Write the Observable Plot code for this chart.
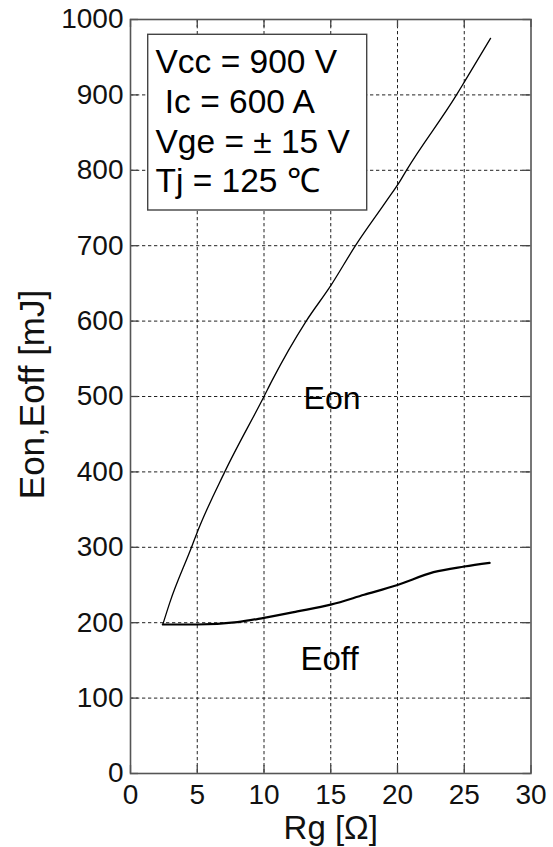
<!DOCTYPE html>
<html>
<head>
<meta charset="utf-8">
<script src="https://cdn.jsdelivr.net/npm/d3@7"></script>
<script src="https://cdn.jsdelivr.net/npm/@observablehq/plot@0.6"></script>
<style>
  html, body { margin: 0; padding: 0; background: #fff; }
  #chart svg { display: block; }
</style>
</head>
<body>
<div id="chart"></div>
<script>
// ---- data ----
const eonRg   = [2.42, 2.95, 4.57, 5, 7.06, 10, 10.6, 13.16, 15, 16.85, 19.2, 20.2, 20.67, 24.42, 25, 26.97];
const eonE    = [197.6, 227, 300, 320, 400, 500, 521, 600, 647, 700, 760, 786, 800, 900, 917, 975];
const eoffRg  = [2.42, 5, 8, 10, 12.5, 15, 17.5, 20, 22.7, 25, 26.9];
const eoffE   = [197.6, 197.6, 200.7, 206.5, 215, 224, 237, 250, 267, 274.5, 279.4];
const xTicks  = [0, 5, 10, 15, 20, 25, 30];
const yTicks  = [0, 100, 200, 300, 400, 500, 600, 700, 800, 900, 1000];
const xGrid   = [5, 10, 15, 20, 25];
const yGrid   = [100, 200, 300, 400, 500, 600, 700, 800, 900];
const legendLines = ["Vcc = 900 V", "\u00a0Ic = 600 A", "Vge = \u00b1 15 V", "Tj = 125 \u2103"];
const curveLabels = ["Eon", "Eoff"];
const xLabel = "Rg [\u03a9]";
const yLabel = "Eon,Eoff [mJ]";

const eon  = eonRg.map((x, i) => ({x, y: eonE[i]}));
const eoff = eoffRg.map((x, i) => ({x, y: eoffE[i]}));

const W = 553, H = 847;
const mL = 130, mR = 22.5, mT = 19, mB = 74;
const fw = W - mL - mR, fh = H - mT - mB;
const tickLen = 8;
const font = "'Liberation Sans', Arial, sans-serif";

const chart = Plot.plot({
  width: W,
  height: H,
  marginLeft: mL,
  marginRight: mR,
  marginTop: mT,
  marginBottom: mB,
  style: {fontFamily: font, fontSize: "28px", color: "#111", background: "#fff"},
  x: {domain: [0, 30]},
  y: {domain: [0, 1000]},
  marks: [
    // grid
    Plot.ruleX(xGrid, {x: d => d, stroke: "#222", strokeWidth: 1, strokeDasharray: "3.3,2.7"}),
    Plot.ruleY(yGrid, {y: d => d, stroke: "#222", strokeWidth: 1, strokeDasharray: "3.3,2.7"}),
    // inward ticks on all sides
    Plot.tickX(xTicks, {x: d => d, insetTop: fh - tickLen, stroke: "#444", strokeWidth: 1.3}),
    Plot.tickX(xTicks, {x: d => d, insetBottom: fh - tickLen, stroke: "#444", strokeWidth: 1.3}),
    Plot.tickY(yTicks, {y: d => d, insetRight: fw - tickLen, stroke: "#444", strokeWidth: 1.3}),
    Plot.tickY(yTicks, {y: d => d, insetLeft: fw - tickLen, stroke: "#444", strokeWidth: 1.3}),
    // axes
    Plot.axisX({ticks: xTicks, tickFormat: d => String(d), tickSize: 0, tickPadding: 11, label: null, fontSize: 28, fill: "#111"}),
    Plot.axisY({ticks: yTicks, tickFormat: d => String(d), tickSize: 0, tickPadding: 7, label: null, fontSize: 28, fill: "#111"}),
    // curves
    Plot.line(eon, {x: "x", y: "y", stroke: "#000", strokeWidth: 1.3, curve: "monotone-x"}),
    Plot.line(eoff, {x: "x", y: "y", stroke: "#000", strokeWidth: 2.2, curve: "monotone-x"}),
    // curve labels
    Plot.text([curveLabels[0]], {frameAnchor: "top-left", text: d => d, dx: 331.5 - mL, dy: 408.3 - mT, textAnchor: "middle", lineAnchor: "bottom", fontSize: 32, fill: "#000"}),
    Plot.text([curveLabels[1]], {frameAnchor: "top-left", text: d => d, dx: 329 - mL, dy: 669.3 - mT, textAnchor: "middle", lineAnchor: "bottom", fontSize: 33, fill: "#000"}),
    // legend box
    Plot.rect([0], {insetLeft: 147.7 - mL, insetTop: 34.3 - mT, insetRight: (W - mR) - 366.7, insetBottom: (H - mB) - 210, fill: "#fff", stroke: "#444", strokeWidth: 1.4}),
    ...legendLines.map((t, i) => Plot.text([t], {
      frameAnchor: "top-left", text: d => d, dx: 155 - mL, dy: 72.7 - mT + i * 39.7,
      textAnchor: "start", lineAnchor: "bottom", fontSize: 33.5, fill: "#000"
    })),
    // frame
    Plot.frame({stroke: "#555", strokeWidth: 1.6}),
    // axis labels
    Plot.text([xLabel], {frameAnchor: "bottom", text: d => d, dy: 838.3 - (H - mB), textAnchor: "middle", lineAnchor: "bottom", fontSize: 33, fill: "#111"}),
    Plot.text([yLabel], {frameAnchor: "left", text: d => d, dx: 32 - mL, dy: 394 - (mT + fh / 2), rotate: -90, textAnchor: "middle", lineAnchor: "middle", fontSize: 35, fill: "#111"})
  ]
});

document.getElementById("chart").appendChild(chart);
</script>
</body>
</html>
